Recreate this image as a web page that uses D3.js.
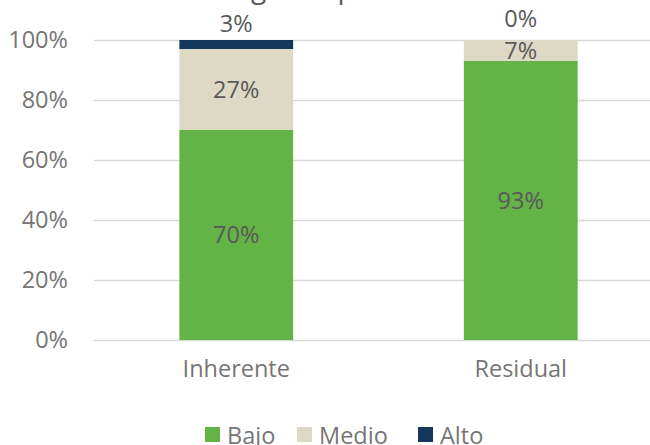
<!DOCTYPE html>
<html>
<head>
<meta charset="utf-8">
<script src="https://cdn.jsdelivr.net/npm/d3@7"></script>
<style>
  html, body { margin: 0; padding: 0; background: #fff; }
  svg { display: block; }
  text { font-family: "Open Sans", sans-serif; }
</style>
</head>
<body>
<svg id="chart" width="650" height="445"></svg>
<script>
const title = "Riesgo del proceso";
const categories = ["Inherente", "Residual"];
const seriesNames = ["Bajo", "Medio", "Alto"];
const bajoValues = [70, 93];
const medioValues = [27, 7];
const altoValues = [3, 0];
const yTicks = [0, 20, 40, 60, 80, 100];
const colors = ["#63b346", "#ddd9c4", "#14375e"];

const seriesValues = [bajoValues, medioValues, altoValues];
const table = categories.map((c, i) => {
  const row = { category: c };
  seriesNames.forEach((s, j) => row[s] = seriesValues[j][i]);
  return row;
});

const svg = d3.select("#chart");
const plot = { left: 94, right: 663, top: 40, bottom: 340 };

const x = d3.scaleBand().domain(categories).range([plot.left, plot.right])
  .paddingInner(0.6).paddingOuter(0.3);
const y = d3.scaleLinear().domain([0, 100]).range([plot.bottom, plot.top]);

// title (mostly cropped above the frame)
svg.append("text").attr("x", 320).attr("y", -2).attr("text-anchor", "middle")
  .attr("font-size", 28).attr("fill", "#595959").text(title);

// gridlines + y tick labels
const yAxis = d3.axisLeft(y).tickValues(yTicks).tickSize(-(plot.right - plot.left))
  .tickFormat(d => d + "%").tickPadding(26);
const gy = svg.append("g").attr("transform", `translate(${plot.left},0)`).call(yAxis);
gy.select(".domain").remove();
gy.selectAll(".tick line").attr("stroke", "#d9d9d9").attr("stroke-width", 1.3);
gy.selectAll(".tick text").attr("font-size", 23.5).attr("fill", "#767676")
  .attr("font-family", "Open Sans, sans-serif");

// stacked bars
const stack = d3.stack().keys(seriesNames)(table);
const layers = svg.append("g").selectAll("g").data(stack).join("g")
  .attr("fill", (d, i) => colors[i]);
layers.selectAll("rect").data(d => d).join("rect")
  .attr("x", d => x(d.data.category))
  .attr("width", x.bandwidth())
  .attr("y", d => y(d[1]))
  .attr("height", d => y(d[0]) - y(d[1]));

// data labels
stack.forEach((layer, li) => {
  layer.forEach(d => {
    const v = d[1] - d[0];
    const cx = x(d.data.category) + x.bandwidth() / 2;
    let ty = (y(d[0]) + y(d[1])) / 2;
    if (li === 2) ty -= 21;
    svg.append("text").attr("x", cx).attr("y", ty).attr("dy", "0.36em")
      .attr("text-anchor", "middle").attr("font-size", 23.5)
      .attr("fill", "#595959").text(v + "%");
  });
});

// x axis labels
const xAxis = d3.axisBottom(x).tickSize(0).tickPadding(0);
const gx = svg.append("g").attr("transform", `translate(0,${plot.bottom})`).call(xAxis);
gx.select(".domain").remove();
gx.selectAll(".tick text").attr("font-size", 23.5).attr("fill", "#767676")
  .attr("font-family", "Open Sans, sans-serif").attr("dy", "37px")
  .attr("text-anchor", "middle");

// legend
const legendX = [205, 297, 418];
const lg = svg.append("g");
seriesNames.forEach((s, i) => {
  lg.append("rect").attr("x", legendX[i]).attr("y", 427).attr("width", 15).attr("height", 15)
    .attr("fill", colors[i]);
  lg.append("text").attr("x", legendX[i] + 22).attr("y", 444).attr("font-size", 23.5)
    .attr("fill", "#767676").text(s);
});
</script>
</body>
</html>
